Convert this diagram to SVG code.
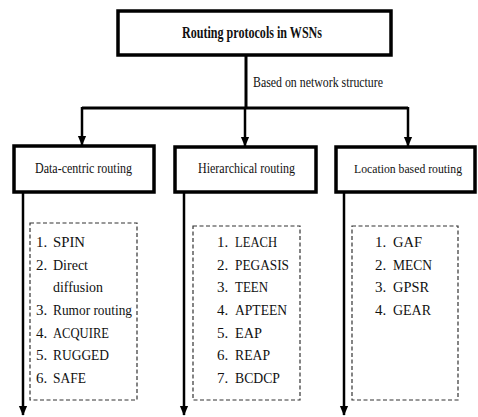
<svg xmlns="http://www.w3.org/2000/svg" width="478" height="417" viewBox="0 0 478 417" font-family="'Liberation Serif', 'DejaVu Serif', serif">
<defs>
<marker id="ad" markerUnits="userSpaceOnUse" markerWidth="10" markerHeight="12" refX="11" refY="5" orient="auto" viewBox="0 0 12 10">
<path d="M0,0 L12,5 L0,10 Z" fill="#000"/>
</marker>
<style>
.box{fill:#fff;stroke:#000;stroke-width:3.5}
.dash{fill:none;stroke:#333;stroke-width:1.2;stroke-dasharray:4,2.5}
.ln{fill:none;stroke:#000;stroke-width:3}
.arr{fill:none;stroke:#000;stroke-width:2.5}
text{font-family:'Liberation Serif','DejaVu Serif',serif;fill:#111;font-size:15px}
.title{font-weight:bold;font-size:16px}
</style>
</defs>
<rect width="478" height="417" fill="#fff"/>
<g id="connectors">
<polyline class="ln" points="246,55 246,108"/>
<polyline class="ln" points="82,108 408,108"/>
<line class="arr" x1="82" y1="107" x2="82" y2="145" marker-end="url(#ad)"/>
<line class="arr" x1="245" y1="108" x2="245" y2="146" marker-end="url(#ad)"/>
<line class="arr" x1="408" y1="107" x2="408" y2="146" marker-end="url(#ad)"/>
<line class="arr" x1="23" y1="193" x2="23" y2="415" marker-end="url(#ad)"/>
<line class="arr" x1="184" y1="193" x2="184" y2="415" marker-end="url(#ad)"/>
<line class="arr" x1="344" y1="193" x2="344" y2="415" marker-end="url(#ad)"/>
<text x="253" y="87" textLength="130" lengthAdjust="spacingAndGlyphs">Based on network structure</text>
</g>
<g id="root">
<rect class="box" x="118" y="11" width="273" height="44"/>
<text class="title" x="252" y="38" text-anchor="middle" textLength="140" lengthAdjust="spacingAndGlyphs">Routing protocols in WSNs</text>
</g>
<g id="data-centric">
<rect class="box" x="14" y="146" width="140" height="46"/>
<text x="35" y="173" textLength="97" lengthAdjust="spacingAndGlyphs">Data-centric routing</text>
</g>
<g id="hierarchical">
<rect class="box" x="175" y="147" width="141" height="45"/>
<text x="198" y="173" textLength="97" lengthAdjust="spacingAndGlyphs">Hierarchical routing</text>
</g>
<g id="location">
<rect class="box" x="336" y="147" width="139" height="45"/>
<text x="408" y="173" text-anchor="middle" style="font-size:13.5px" textLength="108" lengthAdjust="spacingAndGlyphs">Location based routing</text>
</g>
<g id="data-centric-list">
<rect class="dash" x="30" y="223" width="107" height="177"/>
<text x="36" y="247">1.</text><text x="53" y="247" textLength="32" lengthAdjust="spacingAndGlyphs">SPIN</text>
<text x="36" y="270">2.</text><text x="53" y="270" textLength="35" lengthAdjust="spacingAndGlyphs">Direct</text>
<text x="53" y="292" textLength="50" lengthAdjust="spacingAndGlyphs">diffusion</text>
<text x="36" y="315">3.</text><text x="53" y="315" textLength="79" lengthAdjust="spacingAndGlyphs">Rumor routing</text>
<text x="36" y="338">4.</text><text x="53" y="338" textLength="56" lengthAdjust="spacingAndGlyphs">ACQUIRE</text>
<text x="36" y="360">5.</text><text x="53" y="360" textLength="56" lengthAdjust="spacingAndGlyphs">RUGGED</text>
<text x="36" y="383">6.</text><text x="53" y="383" textLength="33" lengthAdjust="spacingAndGlyphs">SAFE</text>
</g>
<g id="hierarchical-list">
<rect class="dash" x="193" y="226" width="107" height="174"/>
<text x="217" y="247">1.</text><text x="235" y="247" textLength="42" lengthAdjust="spacingAndGlyphs">LEACH</text>
<text x="217" y="270">2.</text><text x="235" y="270" textLength="54" lengthAdjust="spacingAndGlyphs">PEGASIS</text>
<text x="217" y="292">3.</text><text x="235" y="292" textLength="33" lengthAdjust="spacingAndGlyphs">TEEN</text>
<text x="217" y="315">4.</text><text x="235" y="315" textLength="52" lengthAdjust="spacingAndGlyphs">APTEEN</text>
<text x="217" y="338">5.</text><text x="235" y="338" textLength="27" lengthAdjust="spacingAndGlyphs">EAP</text>
<text x="217" y="360">6.</text><text x="235" y="360" textLength="35" lengthAdjust="spacingAndGlyphs">REAP</text>
<text x="217" y="383">7.</text><text x="235" y="383" textLength="45" lengthAdjust="spacingAndGlyphs">BCDCP</text>
</g>
<g id="location-list">
<rect class="dash" x="352" y="226" width="106" height="174"/>
<text x="375" y="247">1.</text><text x="393" y="247" textLength="29" lengthAdjust="spacingAndGlyphs">GAF</text>
<text x="375" y="270">2.</text><text x="393" y="270" textLength="39" lengthAdjust="spacingAndGlyphs">MECN</text>
<text x="375" y="292">3.</text><text x="393" y="292" textLength="36" lengthAdjust="spacingAndGlyphs">GPSR</text>
<text x="375" y="315">4.</text><text x="393" y="315" textLength="38" lengthAdjust="spacingAndGlyphs">GEAR</text>
</g>
</svg>
